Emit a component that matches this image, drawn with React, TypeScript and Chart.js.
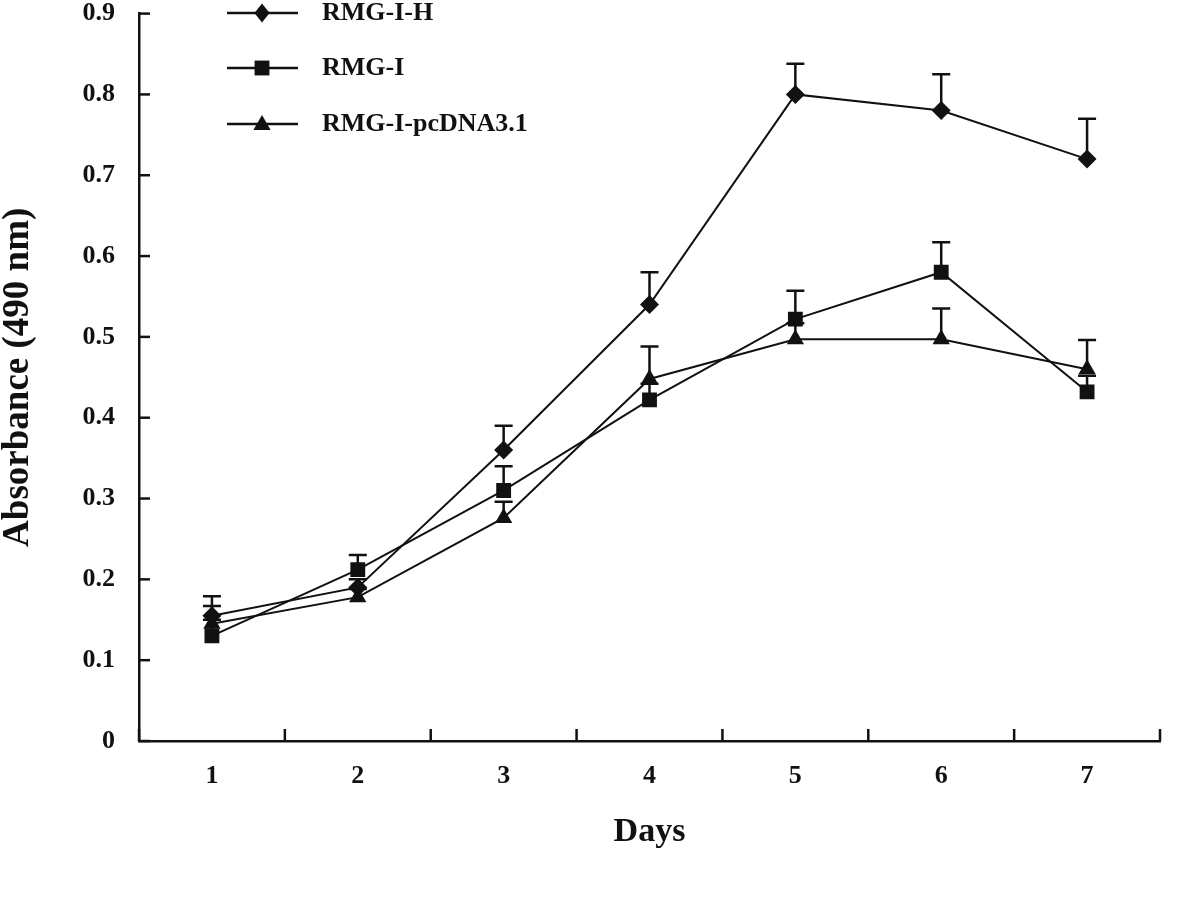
import React, { useEffect, useRef } from "react";
import { Chart, registerables } from "chart.js";

Chart.register(...registerables);

const days = ["1", "2", "3", "4", "5", "6", "7"];
const yTicks = [0, 0.1, 0.2, 0.3, 0.4, 0.5, 0.6, 0.7, 0.8, 0.9];

const seriesNames = ["RMG-I-H", "RMG-I", "RMG-I-pcDNA3.1"];
const rmgIH = [0.155, 0.19, 0.36, 0.54, 0.8, 0.78, 0.72];
const rmgIHErr = [0.024, 0.01, 0.03, 0.04, 0.038, 0.045, 0.05];
const rmgI = [0.13, 0.212, 0.31, 0.422, 0.522, 0.58, 0.432];
const rmgIErr = [0.02, 0.018, 0.03, 0.02, 0.035, 0.037, 0.02];
const rmgIpc = [0.145, 0.178, 0.276, 0.448, 0.497, 0.497, 0.46];
const rmgIpcErr = [0.022, 0.01, 0.02, 0.04, 0.02, 0.038, 0.036];

const seriesValues = [rmgIH, rmgI, rmgIpc];
const seriesErrors = [rmgIHErr, rmgIErr, rmgIpcErr];
const pointStyles = ["rectRot", "rect", "triangle"];
const pointRadii = [9.5, 10.5, 10];

const FONT = "'Liberation Serif', 'Times New Roman', serif";
const INK = "#111";
const SHIFT = 26; // canvas is placed this many px above the page top

function drawMarker(ctx: CanvasRenderingContext2D, style: string, x: number, y: number, r: number) {
  ctx.beginPath();
  if (style === "rectRot") {
    ctx.moveTo(x, y - r);
    ctx.lineTo(x + r * 0.8, y);
    ctx.lineTo(x, y + r);
    ctx.lineTo(x - r * 0.8, y);
  } else if (style === "rect") {
    const s = r * Math.SQRT1_2;
    ctx.rect(x - s, y - s, 2 * s, 2 * s);
  } else {
    const h = r * 1.5;
    const half = (r * Math.sqrt(3)) / 2;
    ctx.moveTo(x, y - h * 0.6);
    ctx.lineTo(x + half, y + h * 0.4);
    ctx.lineTo(x - half, y + h * 0.4);
  }
  ctx.closePath();
  ctx.fill();
}

const decorPlugin = {
  id: "decor",
  beforeDatasetsDraw(chart: any) {
    const ctx = chart.ctx as CanvasRenderingContext2D;
    const yScale = chart.scales.y;
    ctx.save();
    ctx.strokeStyle = INK;
    ctx.lineWidth = 2.5;
    seriesErrors.forEach((errs, di) => {
      const meta = chart.getDatasetMeta(di);
      errs.forEach((e, i) => {
        const pt = meta.data[i];
        if (!pt) return;
        const x = pt.x;
        const y0 = yScale.getPixelForValue(seriesValues[di][i]);
        const y1 = yScale.getPixelForValue(seriesValues[di][i] + e);
        ctx.beginPath();
        ctx.moveTo(x, y0);
        ctx.lineTo(x, y1);
        ctx.moveTo(x - 9, y1);
        ctx.lineTo(x + 9, y1);
        ctx.stroke();
      });
    });
    ctx.restore();
  },
  afterDraw(chart: any) {
    const ctx = chart.ctx as CanvasRenderingContext2D;
    const { left, right, bottom } = chart.chartArea;
    const yScale = chart.scales.y;
    ctx.save();
    ctx.strokeStyle = INK;
    ctx.lineWidth = 2.5;
    yTicks.forEach((v) => {
      const y = yScale.getPixelForValue(v);
      ctx.beginPath();
      ctx.moveTo(left, y);
      ctx.lineTo(left + 11, y);
      ctx.stroke();
    });
    const n = days.length;
    for (let i = 0; i <= n; i++) {
      const x = left + ((right - left) * i) / n;
      ctx.beginPath();
      ctx.moveTo(x, bottom);
      ctx.lineTo(x, bottom - 12);
      ctx.stroke();
    }
    // legend
    const legX0 = 227;
    const legX1 = 298;
    const legMid = 262;
    const textX = 322;
    const rows = [13, 68, 124].map((r) => r + SHIFT);
    ctx.fillStyle = INK;
    ctx.font = `bold 26px ${FONT}`;
    ctx.textBaseline = "middle";
    ctx.textAlign = "left";
    seriesNames.forEach((name, i) => {
      const y = rows[i];
      ctx.beginPath();
      ctx.moveTo(legX0, y);
      ctx.lineTo(legX1, y);
      ctx.stroke();
      drawMarker(ctx, pointStyles[i], legMid, y, pointRadii[i]);
      ctx.fillText(name, textX, y);
    });
    ctx.restore();
  },
};

export default function App() {
  const ref = useRef<HTMLCanvasElement | null>(null);
  useEffect(() => {
    if (!ref.current) return;
    const chart = new Chart(ref.current, {
      type: "line",
      data: {
        labels: days,
        datasets: seriesNames.map((name, i) => ({
          label: name,
          data: seriesValues[i],
          borderColor: INK,
          backgroundColor: INK,
          borderWidth: 2,
          pointStyle: pointStyles[i] as any,
          pointRadius: pointRadii[i],
          pointBorderWidth: 0,
          pointBackgroundColor: INK,
          tension: 0,
        })),
      },
      options: {
        animation: false,
        responsive: false,
        maintainAspectRatio: false,
        layout: { padding: { top: 12, right: 40, left: 0, bottom: 0 } },
        plugins: {
          legend: { display: false },
          tooltip: { enabled: false },
        },
        scales: {
          x: {
            type: "category",
            offset: true,
            grid: { display: false, drawTicks: false, offset: true },
            border: { display: true, color: INK, width: 2.5 },
            ticks: {
              color: INK,
              padding: 20,
              font: { family: FONT, size: 26, weight: "bold" },
            },
            title: {
              display: true,
              text: "Days",
              color: INK,
              font: { family: FONT, size: 34, weight: "bold", lineHeight: 1.2 },
              padding: { top: 0, bottom: 48 },
            },
            afterFit: (scale: any) => {
              scale.height = 160;
            },
          },
          y: {
            min: 0,
            max: 0.9,
            grid: { display: false, drawTicks: false },
            border: { display: true, color: INK, width: 2.5 },
            ticks: {
              stepSize: 0.1,
              color: INK,
              padding: 24,
              font: { family: FONT, size: 26, weight: "bold" },
              callback: (v: any) => (Number(v) === 0 ? "0" : Number(v).toFixed(1)),
            },
            title: {
              display: true,
              text: "Absorbance (490 nm)",
              color: INK,
              font: { family: FONT, size: 37, weight: "bold", lineHeight: 1.0 },
              padding: { top: 0, bottom: 0 },
            },
            afterFit: (scale: any) => {
              scale.width = 139;
            },
          },
        },
      },
      plugins: [decorPlugin],
    });
    return () => chart.destroy();
  }, []);
  return (
    <div style={{ position: "absolute", left: 0, top: -SHIFT, width: 1200, height: 901 + SHIFT, background: "#fff" }}>
      <canvas
        ref={ref}
        width={1200}
        height={901 + SHIFT}
        style={{ width: 1200, height: 901 + SHIFT, display: "block" }}
      />
    </div>
  );
}
